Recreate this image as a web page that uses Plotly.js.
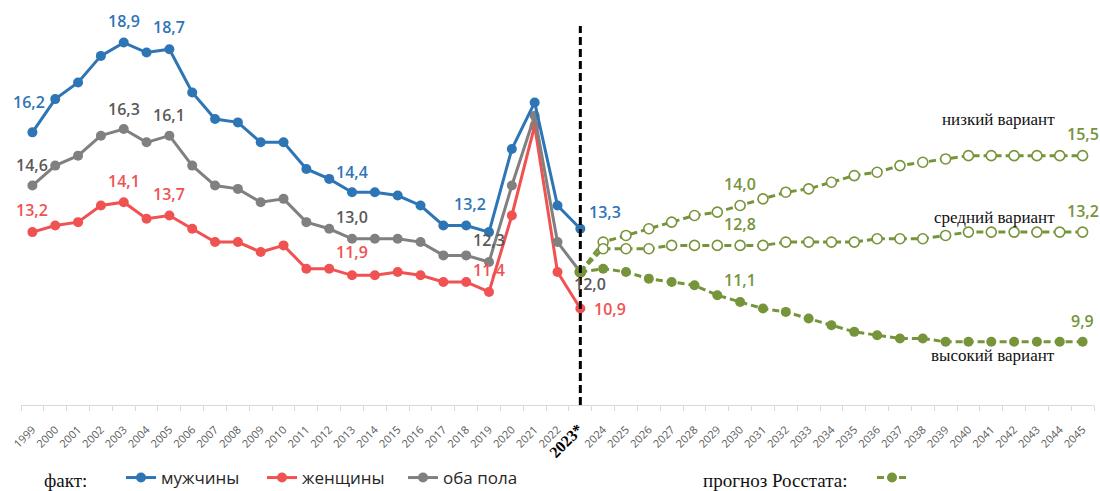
<!DOCTYPE html>
<html><head><meta charset="utf-8">
<script src="https://cdn.plot.ly/plotly-3.0.1.min.js"></script>
<style>html,body{margin:0;padding:0;background:#fff}</style>
</head><body><div id="chart" style="width:1100px;height:491px"></div>
<script>
// ---- data ----
const allYears = [1999,2000,2001,2002,2003,2004,2005,2006,2007,2008,2009,2010,2011,2012,2013,2014,2015,2016,2017,2018,2019,2020,2021,2022,2023,2024,2025,2026,2027,2028,2029,2030,2031,2032,2033,2034,2035,2036,2037,2038,2039,2040,2041,2042,2043,2044,2045];
const factYears = [1999,2000,2001,2002,2003,2004,2005,2006,2007,2008,2009,2010,2011,2012,2013,2014,2015,2016,2017,2018,2019,2020,2021,2022,2023];
const forecastYears = [2023,2024,2025,2026,2027,2028,2029,2030,2031,2032,2033,2034,2035,2036,2037,2038,2039,2040,2041,2042,2043,2044,2045];
const men   = [16.2,17.2,17.7,18.5,18.9,18.6,18.7,17.4,16.6,16.5,15.9,15.9,15.1,14.8,14.4,14.4,14.3,14.0,13.4,13.4,13.2,15.7,17.1,14.0,13.3];
const women = [13.2,13.4,13.5,14.0,14.1,13.6,13.7,13.3,12.9,12.9,12.6,12.8,12.1,12.1,11.9,11.9,12.0,11.9,11.7,11.7,11.4,13.7,16.4,12.0,10.9];
const both  = [14.6,15.2,15.5,16.1,16.3,15.9,16.1,15.2,14.6,14.5,14.1,14.2,13.5,13.3,13.0,13.0,13.0,12.9,12.5,12.5,12.3,14.6,16.7,12.9,12.0];
const lowVar  = [12.0,12.9,13.1,13.3,13.5,13.7,13.8,14.0,14.2,14.4,14.5,14.7,14.9,15.0,15.2,15.3,15.4,15.5,15.5,15.5,15.5,15.5,15.5];
const midVar  = [12.0,12.7,12.7,12.7,12.8,12.8,12.8,12.8,12.8,12.9,12.9,12.9,12.9,13.0,13.0,13.0,13.1,13.2,13.2,13.2,13.2,13.2,13.2];
const highVar = [12.0,12.1,12.0,11.8,11.7,11.6,11.3,11.1,10.9,10.8,10.6,10.4,10.2,10.1,10.0,10.0,9.9,9.9,9.9,9.9,9.9,9.9,9.9];
const seriesNames = {men:'мужчины', women:'женщины', both:'оба пола'};
const variantNames = {low:'низкий вариант', mid:'средний вариант', high:'высокий вариант'};
const factLabel = 'факт:';
const forecastLabel = 'прогноз Росстата:';
const boundaryYear = 2023;

// ---- styles ----
const C = {blue:'#2E75B6', red:'#F05252', grey:'#808080', greyText:'#595959', green:'#76943A'};
const W = 1100, H = 491, M = {l:21, r:6, t:6, b:86, autoexpand:false};
const pw = W - M.l - M.r, ph = H - M.t - M.b;
const px2x = p => (p - M.l) / pw;
const py2y = p => (H - M.b - p) / ph;
const S = y => String(y);
const idx = y => allYears.indexOf(y);
const fmt = v => v.toFixed(1).replace('.', ',');

function factTrace(years, vals, name, color, legend) {
  return {type:'scatter', mode:'lines+markers', x:years.map(S), y:vals, name:name, legend:legend,
    line:{color:color, width:3}, marker:{color:color, size:10}, hoverinfo:'skip'};
}
function fcTrace(vals, open, legend, show) {
  return {type:'scatter', mode:'lines+markers', x:forecastYears.map(S), y:vals, name:' ', legend:legend, showlegend:show,
    line:{color:C.green, width:3, dash:'7px,4px'},
    marker:{color: open ? '#ffffff' : C.green, size:10, line:{color:C.green, width: open ? 1.6 : 0}},
    hoverinfo:'skip'};
}
const traces = [
  factTrace(factYears, women, seriesNames.women, C.red, 'legend2'),
  factTrace(factYears, both, seriesNames.both, C.grey, 'legend3'),
  factTrace(factYears, men, seriesNames.men, C.blue, 'legend'),
  fcTrace(lowVar, true, 'legend4', false),
  fcTrace(midVar, true, 'legend4', false),
  fcTrace(highVar, false, 'legend4', true)
];

const LF = {family:'Open Sans, sans-serif', size:16, weight:600};
const annotations = [];
function lab(years, vals, year, color, xs, ys) {
  const i = years.indexOf(year);
  annotations.push({x:idx(year), y:vals[i], xref:'x', yref:'y', text:fmt(vals[i]), showarrow:false,
    xanchor:'center', yanchor:'middle', xshift:xs, yshift:ys, font:Object.assign({}, LF, {color:color})});
}
lab(factYears, men, 1999, C.blue, -3, 30);
lab(factYears, men, 2003, C.blue, 0, 22);
lab(factYears, men, 2005, C.blue, 0, 22);
lab(factYears, men, 2013, C.blue, 0, 20);
lab(factYears, men, 2019, C.blue, -19, 28);
lab(factYears, men, 2023, C.blue, 25, 17);
lab(factYears, both, 1999, C.greyText, 0, 21);
lab(factYears, both, 2003, C.greyText, 0, 20);
lab(factYears, both, 2005, C.greyText, 0, 21);
lab(factYears, both, 2013, C.greyText, 0, 22);
lab(factYears, both, 2019, C.greyText, 0, 22);
lab(factYears, both, 2023, C.greyText, 10, -12);
lab(factYears, women, 1999, C.red, 0, 22);
lab(factYears, women, 2003, C.red, 0, 21);
lab(factYears, women, 2005, C.red, 0, 21);
lab(factYears, women, 2013, C.red, 0, 23);
lab(factYears, women, 2019, C.red, 0, 22);
lab(factYears, women, 2023, C.red, 30, 0);
lab(forecastYears, lowVar, 2030, C.green, 0, 22);
lab(forecastYears, midVar, 2030, C.green, 0, 21);
lab(forecastYears, highVar, 2030, C.green, 0, 22);
lab(forecastYears, lowVar, 2045, C.green, 0, 22);
lab(forecastYears, midVar, 2045, C.green, 0, 21);
lab(forecastYears, highVar, 2045, C.green, 0, 21);

const serif = {family:'Liberation Serif, Times New Roman, serif', size:17, color:'#111'};
function varLab(vals, text, ys) {
  const i = forecastYears.indexOf(2044);
  annotations.push({x:idx(2044), y:vals[i], xref:'x', yref:'y', text:text, showarrow:false,
    xanchor:'right', yanchor:'middle', xshift:-3, yshift:ys, font:serif});
}
varLab(lowVar, variantNames.low, 36);
varLab(midVar, variantNames.mid, 15);
varLab(highVar, variantNames.high, -14);

annotations.push({xref:'paper', yref:'paper', x:px2x(65), y:py2y(480), xanchor:'center', yanchor:'middle',
  text:factLabel, showarrow:false, font:Object.assign({}, serif, {size:19})});
annotations.push({xref:'paper', yref:'paper', x:px2x(775), y:py2y(480), xanchor:'center', yanchor:'middle',
  text:forecastLabel, showarrow:false, font:Object.assign({}, serif, {size:19})});

const tickText = allYears.map(y => y === boundaryYear
  ? '<span style="font-family:Liberation Serif,serif;font-size:16px;color:#000"><b>' + y + '*</b></span>'
  : S(y));

const legFont = {family:'Open Sans, sans-serif', size:17, color:'#262626'};
function leg(xpx) {
  return {orientation:'h', x:px2x(xpx), xanchor:'left', y:py2y(478), yanchor:'middle',
    font:legFont, bgcolor:'rgba(0,0,0,0)', borderwidth:0};
}

const layout = {
  width:W, height:H, margin:M, paper_bgcolor:'#fff', plot_bgcolor:'#fff',
  showlegend:true,
  xaxis:{type:'category', categoryorder:'array', categoryarray:allYears.map(S), range:[-0.5, allYears.length - 0.5],
    tickmode:'array', tickvals:allYears.map(S), ticktext:tickText, tickangle:-45, tickson:'boundaries',
    ticks:'outside', ticklen:5, tickcolor:'#d9d9d9', showline:true, linecolor:'#d9d9d9', linewidth:1,
    showgrid:false, zeroline:false, automargin:false, ticklabelstandoff:13,
    tickfont:{family:'Open Sans, sans-serif', size:11, color:'#595959'}, fixedrange:true},
  yaxis:{range:[8, 20], visible:false, showgrid:false, zeroline:false, fixedrange:true},
  shapes:[{type:'line', xref:'x', yref:'y', x0:idx(boundaryYear), x1:idx(boundaryYear),
    y0:8, y1:19.4, line:{color:'#000', width:3, dash:'8px,4px'}, layer:'above'}],
  annotations:annotations,
  legend:leg(121), legend2:leg(262), legend3:leg(403), legend4:leg(872)
};
Plotly.newPlot('chart', traces, layout, {displayModeBar:false, staticPlot:true});
</script></body></html>
